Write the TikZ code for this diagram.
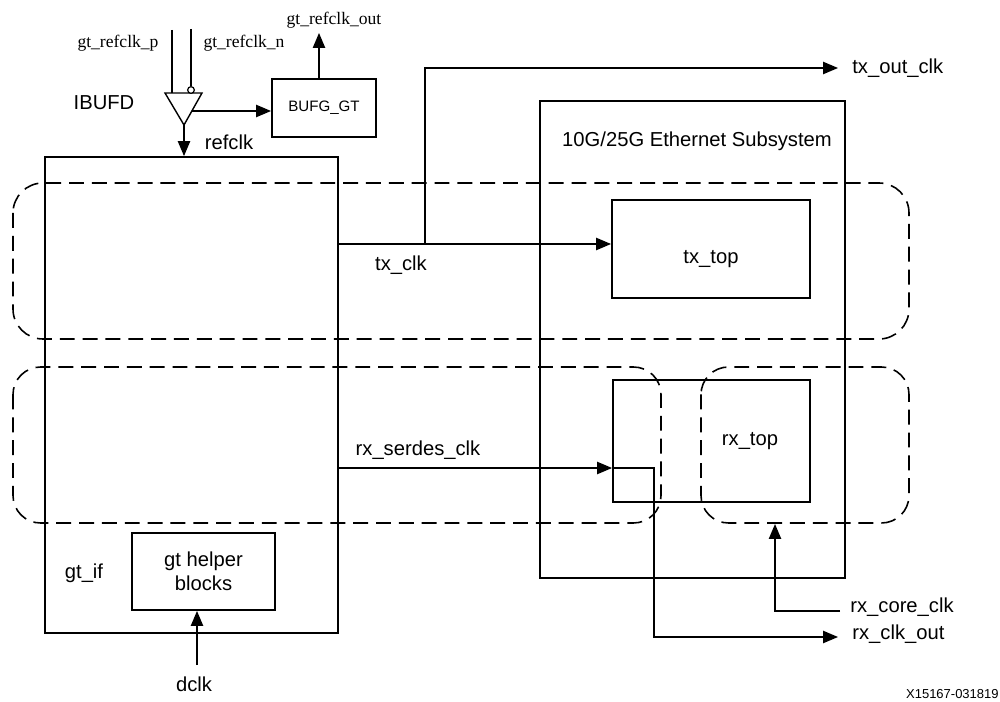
\documentclass[tikz,border=0pt]{standalone}
\usepackage{fontspec}
\setmainfont{Liberation Sans}
\newfontfamily\timesf{Liberation Serif}
\usetikzlibrary{arrows.meta}
\begin{document}
\begin{tikzpicture}[x=0.02cm,y=-0.02cm,
  box/.style={draw,line width=1.1pt,inner sep=0pt},
  conn/.style={line width=0.75pt},
  arr/.style={conn,-{Triangle[length=8.5pt,width=7pt]}},
  zone/.style={line width=0.9pt,dash pattern=on 8.5pt off 4.5pt},
  lbl/.style={font=\fontsize{11.5}{13.5}\selectfont,inner sep=0pt},
  tlbl/.style={font=\timesf\fontsize{10}{12}\selectfont,inner sep=0pt},
  slbl/.style={font=\fontsize{8.6}{10}\selectfont,inner sep=0pt}]
\useasboundingbox (0,0) rectangle (1000,702);
% dashed zones
\draw[zone,rounded corners=0.6cm] (13,183) rectangle (909,339);
\draw[zone,rounded corners=0.55cm] (13,367) rectangle (661,523);
\draw[zone,rounded corners=0.55cm] (701,367) rectangle (909,523);
% boxes
\node[box,minimum width=5.86cm,minimum height=9.52cm] (gtif) at (191.5,395) {};
\node[box,minimum width=2.08cm,minimum height=1.16cm,slbl] (bufg) at (324,108) {BUFG\_GT};
\node[box,minimum width=6.1cm,minimum height=9.54cm] (eth) at (692.5,339.5) {};
\node[box,minimum width=3.96cm,minimum height=1.96cm] (txtop) at (711,249) {};
\node[box,minimum width=3.94cm,minimum height=2.44cm] (rxtop) at (711.5,441) {};
\node[box,minimum width=2.86cm,minimum height=1.54cm,lbl,align=center] (helper) at (203.5,571.5) {gt helper\\blocks};
% IBUFD
\draw[line width=0.8pt,fill=white] (165,93) -- (202,93) -- (184,125) -- cycle;
\node[draw,circle,line width=0.7pt,fill=white,minimum size=3.8pt,inner sep=0pt] (bub) at (191,90) {};
\coordinate (apex) at (184,125);
\coordinate (ibout) at (192,111);
\coordinate (pin) at (172,30);
\coordinate (pbot) at (172,93);
\coordinate (nin) at (191,29);
\coordinate (gtout) at (319,33);
% labels
\node[tlbl] (lp) at (118,43) {gt\_refclk\_p};
\node[tlbl] (ln) at (244,43) {gt\_refclk\_n};
\node[tlbl] (lout) at (334,20) {gt\_refclk\_out};
\node[lbl] (libufd) at (104,103) {IBUFD};
\node[lbl] (lref) at (229,142) {refclk};
\node[lbl] (leth) at (697,141) {10G/25G Ethernet Subsystem};
\node[lbl] (ltx) at (401,265) {tx\_clk};
\node[lbl] (ltxtop) at (711,259) {tx\_top};
\node[lbl] (lrxs) at (418,450) {rx\_serdes\_clk};
\node[lbl] (lrxtop) at (750,441) {rx\_top};
\node[lbl] (lgtif) at (84,573) {gt\_if};
\node[lbl] (ldclk) at (194,684) {dclk};
\node[lbl,anchor=west] (ltxout) at (852,68) {tx\_out\_clk};
\node[lbl,anchor=west] (lrxcore) at (850,607) {rx\_core\_clk};
\node[lbl,anchor=west] (lrxout) at (852,634) {rx\_clk\_out};
\node[font=\fontsize{7.4}{9}\selectfont,inner sep=0pt,anchor=east] (lid) at (999,694) {X15167-031819};
% connectors
\draw[conn] (pin) -- (pbot);
\draw[conn] (nin) -- (bub.north);
\draw[arr] (ibout) -- (ibout -| bufg.west);
\draw[arr] (bufg.north -| gtout) -- (gtout);
\draw[arr] (apex) -- (apex |- gtif.north);
\coordinate (txs) at (338,244);
\coordinate (txbr) at (425,244);
\coordinate (txend) at (838,68);
\draw[arr] (txs) -- (txs -| txtop.west);
\draw[arr] (txbr) |- (txend);
\coordinate (rxs) at (338,468);
\coordinate (rxbend) at (654,637);
\coordinate (rxend) at (838,637);
\draw[arr] (rxs) -- (rxs -| rxtop.west);
\draw[arr] (rxs -| rxtop.west) -| (rxbend) -- (rxend);
\coordinate (rcs) at (840,611);
\coordinate (rcbend) at (775,611);
\coordinate (rctip) at (775,524);
\draw[arr] (rcs) -- (rcbend) -- (rctip);
\coordinate (dcs) at (197,665);
\draw[arr] (dcs) -- (dcs |- helper.south);
\end{tikzpicture}
\end{document}
